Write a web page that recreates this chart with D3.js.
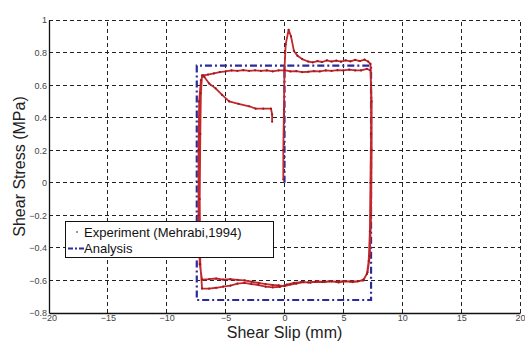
<!DOCTYPE html>
<html>
<head>
<meta charset="utf-8">
<script src="https://cdn.jsdelivr.net/npm/d3@7"></script>
<style>
  html, body { margin: 0; padding: 0; background: #fff; }
  svg { display: block; }
</style>
</head>
<body>
<svg id="chart" width="525" height="342"></svg>
<script>
// Axis ticks
const xTicks = [-20, -15, -10, -5, 0, 5, 10, 15, 20];
const yTicks = [-0.8, -0.6, -0.4, -0.2, 0, 0.2, 0.4, 0.6, 0.8, 1];

// Experiment (Mehrabi, 1994): shear slip (mm) / shear stress (MPa)
const expSlip = [
  -0.1, -0.1, -0.05, 0.0, 0.1, 0.35, 0.55, 0.8, 1.1, 1.5, 2.0, 2.4, 2.8, 3.2, 3.6, 4.0, 4.4, 4.8, 5.2, 5.6, 6.0, 6.4, 6.8, 7.1, 7.3,
  7.35, 7.35, 7.3, 7.25, 7.15, 7.0, 6.7, 6.3,
  5.8, 5.2, 4.6, 4.0, 3.4, 2.8, 2.2, 1.6, 1.0, 0.5, 0.0, -0.5, -1.0, -1.6, -2.2, -2.8, -3.4, -4.0, -4.6, -5.2, -5.8, -6.4, -7.0,
  -7.2, -7.3, -7.3, -7.25, -7.1, -6.9, -6.5, -6.0, -5.5, -5.0, -4.5, -4.0, -3.5, -3.0, -2.5, -2.0, -1.5, -1.0, -0.5, 0.0, 0.5, 1.0, 1.5, 2.0, 2.5, 3.0, 3.5, 4.0, 4.5, 5.0, 5.5, 6.0, 6.5, 7.0, 7.3,
  7.4, 7.4, 7.35, 7.25, 7.05, 6.7,
  6.2, 5.6, 5.0, 4.4, 3.8, 3.2, 2.6, 2.0, 1.4, 0.8, 0.2, -0.4, -1.0, -1.6, -2.2, -2.8, -3.4, -4.0, -4.6, -5.2, -5.8, -6.4, -7.0,
  -7.15, -7.2, -7.15, -7.1, -7.0,
  -6.8, -6.4, -5.85, -5.3, -4.7, -3.9, -3.0, -2.45, -1.8, -1.15, -1.05, -1.05
];
const expStress = [
  0.02, 0.2, 0.45, 0.7, 0.85, 0.94, 0.9, 0.81, 0.78, 0.76, 0.745, 0.74, 0.748, 0.742, 0.752, 0.745, 0.75, 0.744, 0.752, 0.746, 0.755, 0.748, 0.756, 0.745, 0.73,
  0.6, 0.3, 0.0, -0.3, -0.48, -0.56, -0.595, -0.605,
  -0.61, -0.605, -0.612, -0.606, -0.61, -0.604, -0.614, -0.61, -0.62, -0.625, -0.635, -0.63, -0.628, -0.622, -0.615, -0.608, -0.6, -0.596, -0.592, -0.595, -0.588, -0.592, -0.595,
  -0.5, -0.2, 0.2, 0.5, 0.63, 0.66, 0.665, 0.672, 0.68, 0.684, 0.69, 0.688, 0.692, 0.688, 0.691, 0.687, 0.69, 0.685, 0.69, 0.692, 0.684, 0.686, 0.68, 0.682, 0.686, 0.684, 0.69, 0.688, 0.692, 0.69, 0.695, 0.69, 0.69, 0.70, 0.69,
  0.5, 0.2, -0.2, -0.45, -0.55, -0.6,
  -0.605, -0.606, -0.604, -0.608, -0.605, -0.61, -0.608, -0.612, -0.61, -0.615, -0.625, -0.64, -0.642, -0.638, -0.628, -0.622, -0.615, -0.62, -0.632, -0.638, -0.645, -0.65, -0.65,
  -0.5, -0.1, 0.3, 0.55, 0.66,
  0.65, 0.61, 0.58, 0.54, 0.50, 0.485, 0.47, 0.455, 0.455, 0.455, 0.42, 0.375
];

// Analysis: idealised bond-slip loop
const anaSlip   = [0, 0, 7.35, 7.35, -7.45, -7.45, 0];
const anaStress = [0, 0.72, 0.72, -0.72, -0.72, 0.72, 0.72];

const W = 525, H = 342;
const margin = { left: 49, top: 20, right: 5, bottom: 29 };
const x = d3.scaleLinear().domain([-20, 20]).range([margin.left, W - margin.right]);
const y = d3.scaleLinear().domain([-0.8, 1]).range([H - margin.bottom, margin.top]);

const svg = d3.select("#chart");
const font = "Arial, 'Liberation Sans', sans-serif";

// Dashed grid
const grid = svg.append("g").attr("stroke", "#222").attr("stroke-width", 1)
  .attr("stroke-dasharray", "4,3").attr("shape-rendering", "crispEdges");
grid.selectAll("line.v").data(xTicks.slice(1)).join("line")
  .attr("x1", d => x(d)).attr("x2", d => x(d))
  .attr("y1", y(-0.8)).attr("y2", y(1));
grid.selectAll("line.h").data(yTicks.slice(1)).join("line")
  .attr("x1", x(-20)).attr("x2", x(20))
  .attr("y1", d => y(d)).attr("y2", d => y(d));

// Axes
const xAxis = svg.append("g").attr("transform", `translate(0,${y(-0.8)})`)
  .call(d3.axisBottom(x).tickValues(xTicks).tickSize(0).tickPadding(2).tickFormat(d3.format("d")));
const yAxis = svg.append("g").attr("transform", `translate(${x(-20)},0)`)
  .call(d3.axisLeft(y).tickValues(yTicks).tickSize(0).tickPadding(2).tickFormat(d => d3.format("")(+d.toFixed(1))));
[xAxis, yAxis].forEach(g => {
  g.select(".domain").attr("stroke", "#111").attr("stroke-width", 1.3);
  g.selectAll("text").attr("font-family", font).attr("font-size", 9).attr("fill", "#444");
});

// Analysis loop
const line = d3.line().x(d => x(d[0])).y(d => y(d[1]));
svg.append("path")
  .datum(anaSlip.map((s, i) => [s, anaStress[i]]))
  .attr("d", line).attr("fill", "none")
  .attr("stroke", "#2b2b9c").attr("stroke-width", 2.2)
  .attr("stroke-dasharray", "7,3,2,3");

// Experiment trace
const expPts = expSlip.map((s, i) => [s, expStress[i]]);
svg.append("path").datum(expPts).attr("d", line).attr("fill", "none")
  .attr("stroke", "#c4282c").attr("stroke-width", 1.8).attr("stroke-linejoin", "round");
svg.append("g").selectAll("circle").data(expPts).join("circle")
  .attr("cx", d => x(d[0])).attr("cy", d => y(d[1])).attr("r", 1.1)
  .attr("fill", "#9a1a22");

// Axis titles
svg.append("text").attr("x", x(0)).attr("y", 338).attr("text-anchor", "middle")
  .attr("font-family", font).attr("font-size", 16).attr("fill", "#222").text("Shear Slip (mm)");
svg.append("text").attr("transform", `translate(25,${(y(-0.8) + y(1)) / 2}) rotate(-90)`)
  .attr("text-anchor", "middle").attr("font-family", font).attr("font-size", 16)
  .attr("fill", "#222").text("Shear Stress (MPa)");

// Legend
const lg = svg.append("g");
lg.append("rect").attr("x", 65.5).attr("y", 221.5).attr("width", 208).attr("height", 36)
  .attr("fill", "#fff").attr("stroke", "#111").attr("stroke-width", 1);
lg.append("circle").attr("cx", 77).attr("cy", 232).attr("r", 0.9).attr("fill", "#666");
lg.append("text").attr("x", 84).attr("y", 237).attr("font-family", font).attr("font-size", 13)
  .attr("fill", "#111").text("Experiment (Mehrabi,1994)");
lg.append("line").attr("x1", 68).attr("x2", 84).attr("y1", 248.5).attr("y2", 248.5)
  .attr("stroke", "#2b2b9c").attr("stroke-width", 2).attr("stroke-dasharray", "5,2,2,2");
lg.append("text").attr("x", 84).attr("y", 253).attr("font-family", font).attr("font-size", 13)
  .attr("fill", "#111").text("Analysis");
</script>
</body>
</html>
